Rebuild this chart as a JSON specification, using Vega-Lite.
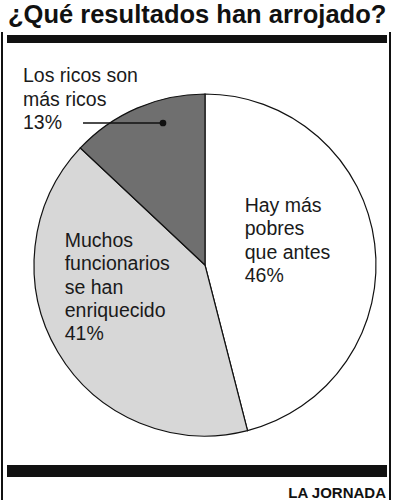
{
  "$schema": "https://vega.github.io/schema/vega-lite/v6.json",
  "width": 388,
  "height": 468,
  "autosize": {"type": "none"},
  "padding": {"left": 2, "top": 32, "right": 3, "bottom": 0},
  "background": "white",
  "config": {"view": {"stroke": null}, "font": "Liberation Sans"},
  "data": {
    "values": [
      {"respuesta": "Hay más pobres que antes", "porcentaje": 46, "etiqueta": "Hay más\npobres\nque antes\n46%"},
      {"respuesta": "Muchos funcionarios se han enriquecido", "porcentaje": 41, "etiqueta": "Muchos\nfuncionarios\nse han\nenriquecido\n41%"},
      {"respuesta": "Los ricos son más ricos", "porcentaje": 13, "etiqueta": "Los ricos son\nmás ricos\n13%"}
    ]
  },
  "layer": [
    {
      "data": {"values": [{}]},
      "mark": {"type": "text", "text": "¿Qué resultados han arrojado?", "fontSize": 25.5, "fontWeight": "bold", "align": "left", "baseline": "alphabetic", "color": "#111111"},
      "encoding": {
        "x": {"datum": 1.55, "type": "quantitative", "scale": {"domain": [0, 100], "nice": false, "zero": false}, "axis": null},
        "y": {"datum": -1.85, "type": "quantitative", "scale": {"domain": [0, 100], "nice": false, "zero": false, "reverse": true}, "axis": null}
      }
    },
    {
      "data": {"values": [{}]},
      "mark": {"type": "rule", "strokeWidth": 2, "color": "#111111"},
      "encoding": {
        "x": {"datum": 0, "type": "quantitative", "scale": {"domain": [0, 100], "nice": false, "zero": false}, "axis": null}
      }
    },
    {
      "data": {"values": [{}]},
      "mark": {"type": "rule", "strokeWidth": 2, "color": "#111111"},
      "encoding": {
        "x": {"datum": 100, "type": "quantitative", "scale": {"domain": [0, 100], "nice": false, "zero": false}, "axis": null}
      }
    },
    {
      "data": {"values": [{}]},
      "mark": {"type": "rule", "strokeWidth": 8, "color": "#111111"},
      "encoding": {
        "x": {"datum": 1.29, "type": "quantitative", "scale": {"domain": [0, 100], "nice": false, "zero": false}, "axis": null},
        "x2": {"datum": 99.23},
        "y": {"datum": 1.5, "type": "quantitative", "scale": {"domain": [0, 100], "nice": false, "zero": false, "reverse": true}, "axis": null}
      }
    },
    {
      "data": {"values": [{}]},
      "mark": {"type": "rule", "strokeWidth": 12, "color": "#111111"},
      "encoding": {
        "x": {"datum": 1.29, "type": "quantitative", "scale": {"domain": [0, 100], "nice": false, "zero": false}, "axis": null},
        "x2": {"datum": 99.23},
        "y": {"datum": 93.8, "type": "quantitative", "scale": {"domain": [0, 100], "nice": false, "zero": false, "reverse": true}, "axis": null}
      }
    },
    {
      "data": {"values": [{}]},
      "mark": {"type": "text", "text": "LA JORNADA", "fontSize": 15, "fontWeight": "bold", "align": "right", "baseline": "alphabetic", "color": "#111111"},
      "encoding": {
        "x": {"datum": 98.97, "type": "quantitative", "scale": {"domain": [0, 100], "nice": false, "zero": false}, "axis": null},
        "y": {"datum": 99.57, "type": "quantitative", "scale": {"domain": [0, 100], "nice": false, "zero": false, "reverse": true}, "axis": null}
      }
    },
    {
      "mark": {"type": "arc", "outerRadius": 171, "stroke": "#111111", "strokeWidth": 1.2},
      "encoding": {
        "theta": {"field": "porcentaje", "type": "quantitative", "stack": true},
        "order": {"field": "porcentaje", "sort": "descending"},
        "color": {
          "field": "respuesta",
          "type": "nominal",
          "scale": {
            "domain": ["Hay más pobres que antes", "Muchos funcionarios se han enriquecido", "Los ricos son más ricos"],
            "range": ["#ffffff", "#d7d7d7", "#6f6f6f"]
          },
          "legend": null
        },
        "x": {"datum": 52.32, "type": "quantitative", "scale": {"domain": [0, 100], "nice": false, "zero": false}, "axis": null},
        "y": {"datum": 49.79, "type": "quantitative", "scale": {"domain": [0, 100], "nice": false, "zero": false, "reverse": true}, "axis": null}
      }
    },
    {
      "data": {"values": [{}]},
      "mark": {"type": "rule", "strokeWidth": 1.5, "color": "#111111"},
      "encoding": {
        "x": {"datum": 20.88, "type": "quantitative", "scale": {"domain": [0, 100], "nice": false, "zero": false}, "axis": null},
        "x2": {"datum": 41.49},
        "y": {"datum": 19.44, "type": "quantitative", "scale": {"domain": [0, 100], "nice": false, "zero": false, "reverse": true}, "axis": null}
      }
    },
    {
      "data": {"values": [{}]},
      "mark": {"type": "point", "filled": true, "size": 45, "color": "#111111", "opacity": 1},
      "encoding": {
        "x": {"datum": 41.49, "type": "quantitative", "scale": {"domain": [0, 100], "nice": false, "zero": false}, "axis": null},
        "y": {"datum": 19.44, "type": "quantitative", "scale": {"domain": [0, 100], "nice": false, "zero": false, "reverse": true}, "axis": null}
      }
    },
    {
      "mark": {"type": "text", "radius": 40, "dx": 0, "dy": -48, "align": "left", "baseline": "alphabetic", "fontSize": 19.5, "lineHeight": 23.3, "lineBreak": "\n", "color": "#1a1a1a"},
      "encoding": {
        "theta": {"field": "porcentaje", "type": "quantitative", "stack": true},
        "order": {"field": "porcentaje", "sort": "descending"},
        "text": {"condition": {"test": "datum.respuesta === 'Hay más pobres que antes'", "field": "etiqueta"}, "value": ""},
        "x": {"datum": 52.32, "type": "quantitative", "scale": {"domain": [0, 100], "nice": false, "zero": false}, "axis": null},
        "y": {"datum": 49.79, "type": "quantitative", "scale": {"domain": [0, 100], "nice": false, "zero": false, "reverse": true}, "axis": null}
      }
    },
    {
      "mark": {"type": "text", "radius": 163, "dx": 0, "dy": -101, "align": "left", "baseline": "alphabetic", "fontSize": 19.5, "lineHeight": 23.3, "lineBreak": "\n", "color": "#1a1a1a"},
      "encoding": {
        "theta": {"field": "porcentaje", "type": "quantitative", "stack": true},
        "order": {"field": "porcentaje", "sort": "descending"},
        "text": {"condition": {"test": "datum.respuesta === 'Muchos funcionarios se han enriquecido'", "field": "etiqueta"}, "value": ""},
        "x": {"datum": 52.32, "type": "quantitative", "scale": {"domain": [0, 100], "nice": false, "zero": false}, "axis": null},
        "y": {"datum": 49.79, "type": "quantitative", "scale": {"domain": [0, 100], "nice": false, "zero": false, "reverse": true}, "axis": null}
      }
    },
    {
      "mark": {"type": "text", "radius": 199, "dx": -103, "dy": 0, "align": "left", "baseline": "alphabetic", "fontSize": 19.5, "lineHeight": 23.3, "lineBreak": "\n", "color": "#1a1a1a"},
      "encoding": {
        "theta": {"field": "porcentaje", "type": "quantitative", "stack": true},
        "order": {"field": "porcentaje", "sort": "descending"},
        "text": {"condition": {"test": "datum.respuesta === 'Los ricos son más ricos'", "field": "etiqueta"}, "value": ""},
        "x": {"datum": 52.32, "type": "quantitative", "scale": {"domain": [0, 100], "nice": false, "zero": false}, "axis": null},
        "y": {"datum": 49.79, "type": "quantitative", "scale": {"domain": [0, 100], "nice": false, "zero": false, "reverse": true}, "axis": null}
      }
    }
  ]
}
